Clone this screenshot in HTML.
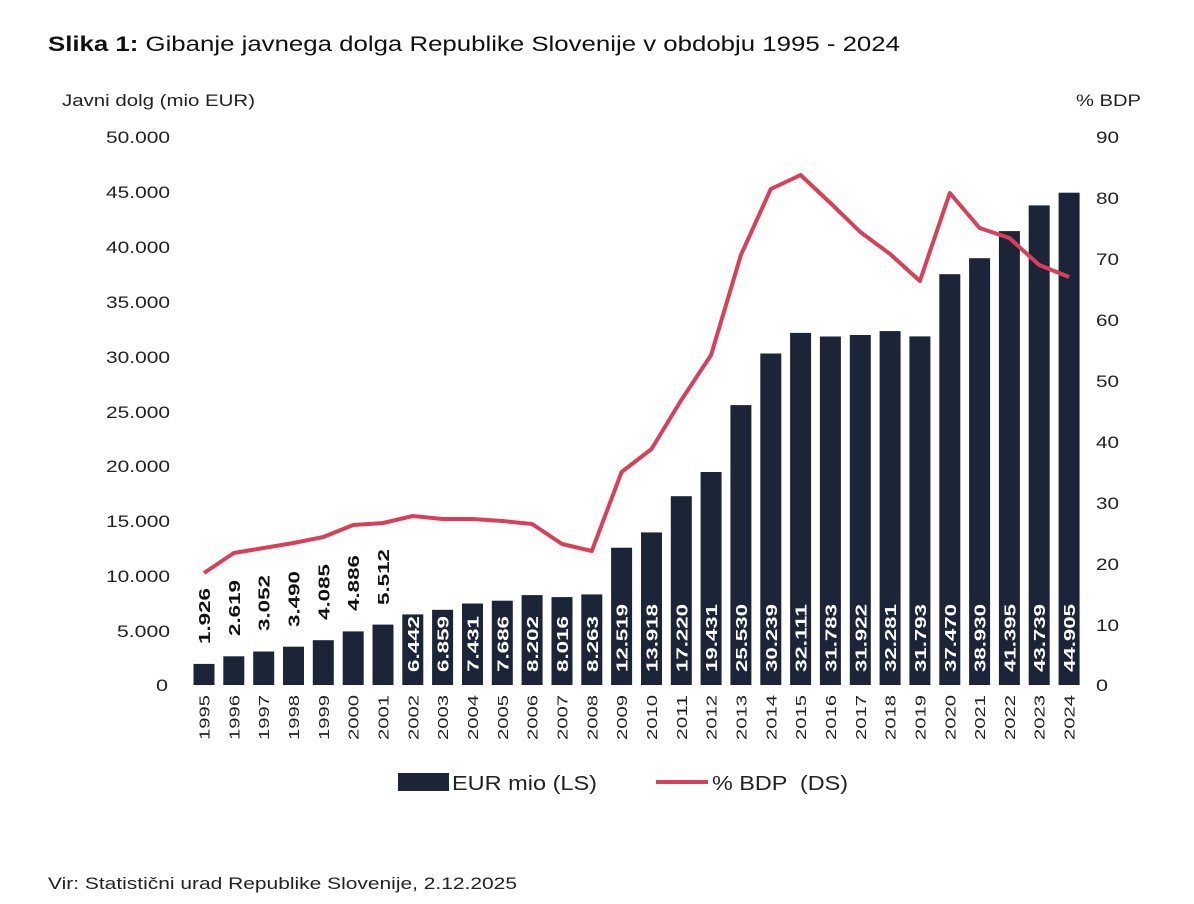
<!DOCTYPE html>
<html><head><meta charset="utf-8"><style>
body{margin:0;background:#fff;}
svg{display:block;font-family:"Liberation Sans",Arial,sans-serif;}
</style></head><body>
<svg width="1194" height="904" viewBox="0 0 1194 904" xmlns="http://www.w3.org/2000/svg">
<rect width="1194" height="904" fill="#fff"/>
<text x="48" y="51" font-size="21" fill="#111" textLength="852" lengthAdjust="spacingAndGlyphs"><tspan font-weight="bold">Slika 1:</tspan> Gibanje javnega dolga Republike Slovenije v obdobju 1995 - 2024</text>
<text x="62" y="106" font-size="17" fill="#222" textLength="193" lengthAdjust="spacingAndGlyphs">Javni dolg (mio EUR)</text>
<text x="1076" y="106" font-size="17" fill="#222" textLength="65" lengthAdjust="spacingAndGlyphs">% BDP</text>
<g font-size="17" fill="#222" text-anchor="end" lengthAdjust="spacingAndGlyphs">
<text x="170" y="143" textLength="64" lengthAdjust="spacingAndGlyphs">50.000</text><text x="170" y="198" textLength="64" lengthAdjust="spacingAndGlyphs">45.000</text><text x="170" y="253" textLength="64" lengthAdjust="spacingAndGlyphs">40.000</text>
<text x="170" y="308" textLength="64" lengthAdjust="spacingAndGlyphs">35.000</text><text x="170" y="363" textLength="64" lengthAdjust="spacingAndGlyphs">30.000</text><text x="170" y="418" textLength="64" lengthAdjust="spacingAndGlyphs">25.000</text>
<text x="170" y="472" textLength="64" lengthAdjust="spacingAndGlyphs">20.000</text><text x="170" y="527" textLength="64" lengthAdjust="spacingAndGlyphs">15.000</text><text x="170" y="582" textLength="64" lengthAdjust="spacingAndGlyphs">10.000</text>
<text x="170" y="637" textLength="53" lengthAdjust="spacingAndGlyphs">5.000</text><text x="168" y="691" textLength="12" lengthAdjust="spacingAndGlyphs">0</text>
</g>
<g font-size="17" fill="#222">
<text x="1096" y="143" textLength="23" lengthAdjust="spacingAndGlyphs">90</text><text x="1096" y="204" textLength="23" lengthAdjust="spacingAndGlyphs">80</text><text x="1096" y="265" textLength="23" lengthAdjust="spacingAndGlyphs">70</text>
<text x="1096" y="326" textLength="23" lengthAdjust="spacingAndGlyphs">60</text><text x="1096" y="387" textLength="23" lengthAdjust="spacingAndGlyphs">50</text><text x="1096" y="448" textLength="23" lengthAdjust="spacingAndGlyphs">40</text>
<text x="1096" y="509" textLength="23" lengthAdjust="spacingAndGlyphs">30</text><text x="1096" y="570" textLength="23" lengthAdjust="spacingAndGlyphs">20</text><text x="1096" y="631" textLength="23" lengthAdjust="spacingAndGlyphs">10</text>
<text x="1096" y="691" textLength="12" lengthAdjust="spacingAndGlyphs">0</text>
</g>
<g fill="#1c2438">
<rect x="193.5" y="663.9" width="21" height="21.1"/>
<rect x="223.3" y="656.3" width="21" height="28.7"/>
<rect x="253.2" y="651.5" width="21" height="33.5"/>
<rect x="283.0" y="646.7" width="21" height="38.3"/>
<rect x="312.8" y="640.2" width="21" height="44.8"/>
<rect x="342.7" y="631.4" width="21" height="53.6"/>
<rect x="372.5" y="624.6" width="21" height="60.4"/>
<rect x="402.3" y="614.4" width="21" height="70.6"/>
<rect x="432.1" y="609.8" width="21" height="75.2"/>
<rect x="462.0" y="603.5" width="21" height="81.5"/>
<rect x="491.8" y="600.7" width="21" height="84.3"/>
<rect x="521.6" y="595.1" width="21" height="89.9"/>
<rect x="551.5" y="597.1" width="21" height="87.9"/>
<rect x="581.3" y="594.4" width="21" height="90.6"/>
<rect x="611.1" y="547.7" width="21" height="137.3"/>
<rect x="641.0" y="532.4" width="21" height="152.6"/>
<rect x="670.8" y="496.2" width="21" height="188.8"/>
<rect x="700.6" y="472.0" width="21" height="213.0"/>
<rect x="730.4" y="405.1" width="21" height="279.9"/>
<rect x="760.3" y="353.5" width="21" height="331.5"/>
<rect x="790.1" y="332.9" width="21" height="352.1"/>
<rect x="819.9" y="336.5" width="21" height="348.5"/>
<rect x="849.8" y="335.0" width="21" height="350.0"/>
<rect x="879.6" y="331.1" width="21" height="353.9"/>
<rect x="909.4" y="336.4" width="21" height="348.6"/>
<rect x="939.3" y="274.2" width="21" height="410.8"/>
<rect x="969.1" y="258.2" width="21" height="426.8"/>
<rect x="998.9" y="231.1" width="21" height="453.9"/>
<rect x="1028.7" y="205.4" width="21" height="479.6"/>
<rect x="1058.6" y="192.7" width="21" height="492.3"/>
</g>
<g font-size="16" font-weight="bold" fill="#111">
<text transform="translate(210,644) rotate(-90)" textLength="56" lengthAdjust="spacingAndGlyphs">1.926</text>
<text transform="translate(239.8,636) rotate(-90)" textLength="56" lengthAdjust="spacingAndGlyphs">2.619</text>
<text transform="translate(269.7,631) rotate(-90)" textLength="56" lengthAdjust="spacingAndGlyphs">3.052</text>
<text transform="translate(299.5,627) rotate(-90)" textLength="56" lengthAdjust="spacingAndGlyphs">3.490</text>
<text transform="translate(329.3,620) rotate(-90)" textLength="56" lengthAdjust="spacingAndGlyphs">4.085</text>
<text transform="translate(359.2,611) rotate(-90)" textLength="56" lengthAdjust="spacingAndGlyphs">4.886</text>
<text transform="translate(389,605) rotate(-90)" textLength="56" lengthAdjust="spacingAndGlyphs">5.512</text>
</g>
<g font-size="16" font-weight="bold" fill="#fff">
<text transform="translate(418.8,672) rotate(-90)" textLength="56" lengthAdjust="spacingAndGlyphs">6.442</text>
<text transform="translate(448.6,672) rotate(-90)" textLength="56" lengthAdjust="spacingAndGlyphs">6.859</text>
<text transform="translate(478.5,672) rotate(-90)" textLength="56" lengthAdjust="spacingAndGlyphs">7.431</text>
<text transform="translate(508.3,672) rotate(-90)" textLength="56" lengthAdjust="spacingAndGlyphs">7.686</text>
<text transform="translate(538.1,672) rotate(-90)" textLength="56" lengthAdjust="spacingAndGlyphs">8.202</text>
<text transform="translate(568,672) rotate(-90)" textLength="56" lengthAdjust="spacingAndGlyphs">8.016</text>
<text transform="translate(597.8,672) rotate(-90)" textLength="56" lengthAdjust="spacingAndGlyphs">8.263</text>
<text transform="translate(627.6,672) rotate(-90)" textLength="68" lengthAdjust="spacingAndGlyphs">12.519</text>
<text transform="translate(657.5,672) rotate(-90)" textLength="68" lengthAdjust="spacingAndGlyphs">13.918</text>
<text transform="translate(687.3,672) rotate(-90)" textLength="68" lengthAdjust="spacingAndGlyphs">17.220</text>
<text transform="translate(717.1,672) rotate(-90)" textLength="68" lengthAdjust="spacingAndGlyphs">19.431</text>
<text transform="translate(746.9,672) rotate(-90)" textLength="68" lengthAdjust="spacingAndGlyphs">25.530</text>
<text transform="translate(776.8,672) rotate(-90)" textLength="68" lengthAdjust="spacingAndGlyphs">30.239</text>
<text transform="translate(806.6,672) rotate(-90)" textLength="68" lengthAdjust="spacingAndGlyphs">32.111</text>
<text transform="translate(836.4,672) rotate(-90)" textLength="68" lengthAdjust="spacingAndGlyphs">31.783</text>
<text transform="translate(866.3,672) rotate(-90)" textLength="68" lengthAdjust="spacingAndGlyphs">31.922</text>
<text transform="translate(896.1,672) rotate(-90)" textLength="68" lengthAdjust="spacingAndGlyphs">32.281</text>
<text transform="translate(925.9,672) rotate(-90)" textLength="68" lengthAdjust="spacingAndGlyphs">31.793</text>
<text transform="translate(955.8,672) rotate(-90)" textLength="68" lengthAdjust="spacingAndGlyphs">37.470</text>
<text transform="translate(985.6,672) rotate(-90)" textLength="68" lengthAdjust="spacingAndGlyphs">38.930</text>
<text transform="translate(1015.4,672) rotate(-90)" textLength="68" lengthAdjust="spacingAndGlyphs">41.395</text>
<text transform="translate(1045.2,672) rotate(-90)" textLength="68" lengthAdjust="spacingAndGlyphs">43.739</text>
<text transform="translate(1075.1,672) rotate(-90)" textLength="68" lengthAdjust="spacingAndGlyphs">44.905</text>
</g>
<polyline fill="none" stroke="#d8405a" stroke-width="4" stroke-linejoin="round" points="204,573 233.8,553 263.7,548 293.5,543 323.3,537 353.2,525 383,523 412.8,516 442.6,519 472.5,519 502.3,521 532.1,524 562,544 591.8,551 621.6,472 651.5,449 681.3,400 711.1,355 740.9,255 770.8,189 800.6,175 830.4,203 860.3,232 890.1,254 919.9,281 949.8,193 979.6,228 1009.4,238 1039.2,265 1069.1,277"/>
<g font-size="15" fill="#222" text-anchor="end">
<text transform="translate(209.5,695) rotate(-90)" textLength="45" lengthAdjust="spacingAndGlyphs">1995</text>
<text transform="translate(239.3,695) rotate(-90)" textLength="45" lengthAdjust="spacingAndGlyphs">1996</text>
<text transform="translate(269.2,695) rotate(-90)" textLength="45" lengthAdjust="spacingAndGlyphs">1997</text>
<text transform="translate(299.0,695) rotate(-90)" textLength="45" lengthAdjust="spacingAndGlyphs">1998</text>
<text transform="translate(328.8,695) rotate(-90)" textLength="45" lengthAdjust="spacingAndGlyphs">1999</text>
<text transform="translate(358.7,695) rotate(-90)" textLength="45" lengthAdjust="spacingAndGlyphs">2000</text>
<text transform="translate(388.5,695) rotate(-90)" textLength="45" lengthAdjust="spacingAndGlyphs">2001</text>
<text transform="translate(418.3,695) rotate(-90)" textLength="45" lengthAdjust="spacingAndGlyphs">2002</text>
<text transform="translate(448.1,695) rotate(-90)" textLength="45" lengthAdjust="spacingAndGlyphs">2003</text>
<text transform="translate(478.0,695) rotate(-90)" textLength="45" lengthAdjust="spacingAndGlyphs">2004</text>
<text transform="translate(507.8,695) rotate(-90)" textLength="45" lengthAdjust="spacingAndGlyphs">2005</text>
<text transform="translate(537.6,695) rotate(-90)" textLength="45" lengthAdjust="spacingAndGlyphs">2006</text>
<text transform="translate(567.5,695) rotate(-90)" textLength="45" lengthAdjust="spacingAndGlyphs">2007</text>
<text transform="translate(597.3,695) rotate(-90)" textLength="45" lengthAdjust="spacingAndGlyphs">2008</text>
<text transform="translate(627.1,695) rotate(-90)" textLength="45" lengthAdjust="spacingAndGlyphs">2009</text>
<text transform="translate(657.0,695) rotate(-90)" textLength="45" lengthAdjust="spacingAndGlyphs">2010</text>
<text transform="translate(686.8,695) rotate(-90)" textLength="45" lengthAdjust="spacingAndGlyphs">2011</text>
<text transform="translate(716.6,695) rotate(-90)" textLength="45" lengthAdjust="spacingAndGlyphs">2012</text>
<text transform="translate(746.4,695) rotate(-90)" textLength="45" lengthAdjust="spacingAndGlyphs">2013</text>
<text transform="translate(776.3,695) rotate(-90)" textLength="45" lengthAdjust="spacingAndGlyphs">2014</text>
<text transform="translate(806.1,695) rotate(-90)" textLength="45" lengthAdjust="spacingAndGlyphs">2015</text>
<text transform="translate(835.9,695) rotate(-90)" textLength="45" lengthAdjust="spacingAndGlyphs">2016</text>
<text transform="translate(865.8,695) rotate(-90)" textLength="45" lengthAdjust="spacingAndGlyphs">2017</text>
<text transform="translate(895.6,695) rotate(-90)" textLength="45" lengthAdjust="spacingAndGlyphs">2018</text>
<text transform="translate(925.4,695) rotate(-90)" textLength="45" lengthAdjust="spacingAndGlyphs">2019</text>
<text transform="translate(955.3,695) rotate(-90)" textLength="45" lengthAdjust="spacingAndGlyphs">2020</text>
<text transform="translate(985.1,695) rotate(-90)" textLength="45" lengthAdjust="spacingAndGlyphs">2021</text>
<text transform="translate(1014.9,695) rotate(-90)" textLength="45" lengthAdjust="spacingAndGlyphs">2022</text>
<text transform="translate(1044.7,695) rotate(-90)" textLength="45" lengthAdjust="spacingAndGlyphs">2023</text>
<text transform="translate(1074.6,695) rotate(-90)" textLength="45" lengthAdjust="spacingAndGlyphs">2024</text>
</g>
<rect x="398" y="773" width="51" height="18" fill="#1c2438"/>
<text x="452" y="790" font-size="20" fill="#222" textLength="145" lengthAdjust="spacingAndGlyphs">EUR mio (LS)</text>
<line x1="656" y1="782" x2="708" y2="782" stroke="#d8405a" stroke-width="4"/>
<text x="712" y="790" font-size="20" fill="#222" xml:space="preserve" textLength="136" lengthAdjust="spacingAndGlyphs">% BDP  (DS)</text>
<text x="48" y="889" font-size="17" fill="#222" textLength="469" lengthAdjust="spacingAndGlyphs">Vir: Statistični urad Republike Slovenije, 2.12.2025</text>
</svg>
</body></html>
